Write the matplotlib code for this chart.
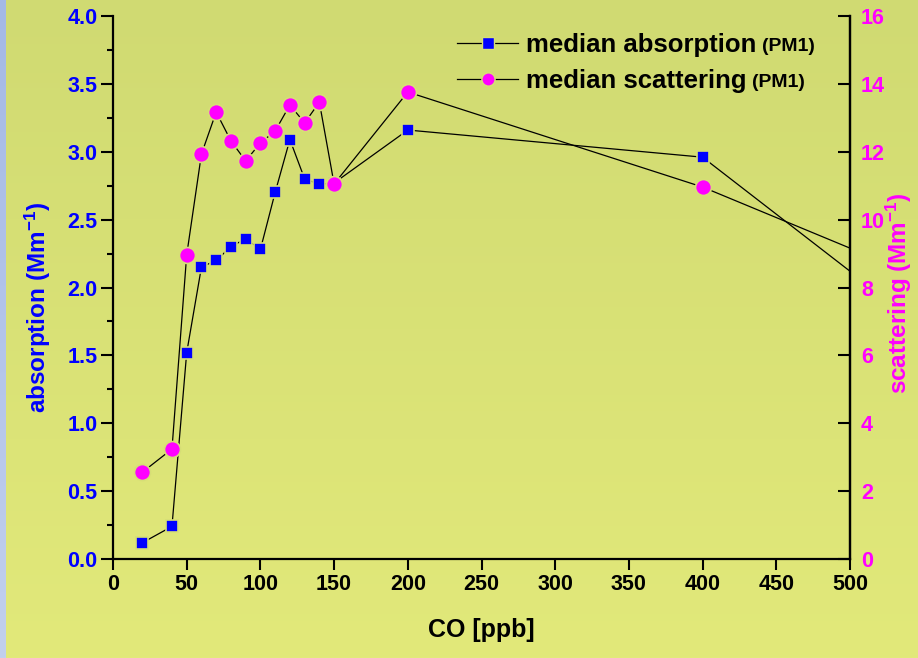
import numpy as np
import matplotlib
matplotlib.use("Agg")
from matplotlib import pyplot as plt
from matplotlib.lines import Line2D
from matplotlib.ticker import MultipleLocator

plt.rcParams['font.family'] = ['Liberation Sans', 'DejaVu Sans']
plt.rcParams['font.weight'] = 'bold'
plt.rcParams['mathtext.fontset'] = 'custom'
plt.rcParams['mathtext.rm'] = 'Liberation Sans:bold'
plt.rcParams['mathtext.bf'] = 'Liberation Sans:bold'
plt.rcParams['mathtext.default'] = 'bf'

# CO bins [ppb]
co = [20, 40, 50, 60, 70, 80, 90, 100, 110, 120, 130, 140, 150, 200, 400, 600]
# median absorption (PM1) [Mm-1]
absorption = [0.12, 0.24, 1.52, 2.15, 2.20, 2.30, 2.36, 2.28, 2.70, 3.09, 2.80, 2.76,
              2.77, 3.16, 2.96, 1.28]
# median scattering (PM1) [Mm-1]
scattering = [2.56, 3.24, 8.96, 11.93, 13.17, 12.32, 11.73, 12.26, 12.61, 13.38, 12.85,
              13.46, 11.05, 13.76, 10.96, 7.36]

W, H = 918, 658
fig = plt.figure(figsize=(W / 100, H / 100), dpi=100)

# background: green-yellow vertical gradient with a pale blue strip on the left
t = np.linspace(0, 1, H)[:, None, None]
top = np.array([208, 218, 114]) / 255
bot = np.array([226, 233, 122]) / 255
img = top + (bot - top) * t
img = np.repeat(img, W, axis=1)
stop = np.array([164, 185, 228]) / 255
sbot = np.array([194, 208, 238]) / 255
img[:, :6, :] = (stop + (sbot - stop) * t)[:, 0, :][:, None, :]
bg = fig.add_axes([0, 0, 1, 1], zorder=-10)
bg.imshow(img, aspect='auto')
bg.axis('off')

ax = fig.add_axes([113 / W, 1 - 559 / H, 737 / W, 543 / H])
ax.patch.set_alpha(0)
ax2 = ax.twinx()
ax2.patch.set_alpha(0)

edge = '#d6df76'
ax.plot(co, absorption, color='black', lw=0.9, marker='s', ms=9, mfc='#0000ff',
        mec=edge, mew=1.2, zorder=3)
ax2.plot(co, scattering, color='black', lw=0.9, marker='o', ms=11.5, mfc='#ff00ff',
         mec=edge, mew=1.2, zorder=3)

ax.set_xlim(0, 500)
ax.set_ylim(0, 4.0)
ax2.set_ylim(0, 16)

ax.xaxis.set_major_locator(MultipleLocator(50))
ax.yaxis.set_major_locator(MultipleLocator(0.5))
ax.yaxis.set_minor_locator(MultipleLocator(0.25))
ax.yaxis.set_major_formatter(lambda v, p: f"{v:.1f}")
ax2.yaxis.set_major_locator(MultipleLocator(2))

for a in (ax, ax2):
    a.spines['top'].set_visible(False)
    for s in a.spines.values():
        s.set_linewidth(1.6)
ax2.spines['left'].set_visible(False)
ax2.spines['bottom'].set_visible(False)

ax.tick_params(axis='y', which='major', direction='out', length=8.5, width=1.5,
               labelsize=15.5, labelcolor='#0000ff', pad=2.5)
ax.tick_params(axis='y', which='minor', direction='out', length=4.5, width=1.5)
ax.tick_params(axis='x', which='major', direction='out', length=8, width=1.5,
               labelsize=15.5, labelcolor='black', pad=3)
ax2.tick_params(axis='y', which='major', direction='in', length=8.5, width=1.5,
                labelsize=15.5, labelcolor='#ff00ff', pad=8)

ax.set_xlabel('CO [ppb]', fontsize=18, fontweight='bold', color='black', labelpad=16)
ax.set_ylabel('absorption (Mm$^{-1}$)', fontsize=17.5, fontweight='bold',
              color='#0000ff')
ax.yaxis.set_label_coords(-0.082, 0.464)
ax2.set_ylabel('scattering (Mm$^{-1}$)', fontsize=17.5, fontweight='bold',
               color='#ff00ff')
ax2.yaxis.set_label_coords(1.046, 0.49)

handles = [
    Line2D([], [], color='black', lw=0.9, marker='s', ms=8, mfc='#0000ff', mec=edge),
    Line2D([], [], color='black', lw=0.9, marker='o', ms=9.5, mfc='#ff00ff', mec=edge),
]
leg = ax2.legend(handles, ['median absorption', 'median scattering'],
                 loc='upper left', bbox_to_anchor=(0.435, 1.012), frameon=False,
                 prop={'size': 18.5, 'weight': 'bold'}, handlelength=2.4,
                 handletextpad=0.3, labelspacing=0.5)

fig.canvas.draw()
for txt in leg.get_texts():
    ax2.annotate('(PM1)', xy=(1, 0), xycoords=txt, xytext=(4, 1.5),
                 textcoords='offset points', va='bottom', ha='left',
                 fontsize=14, fontweight='bold', color='black')

fig.savefig('out.png', dpi=100)
